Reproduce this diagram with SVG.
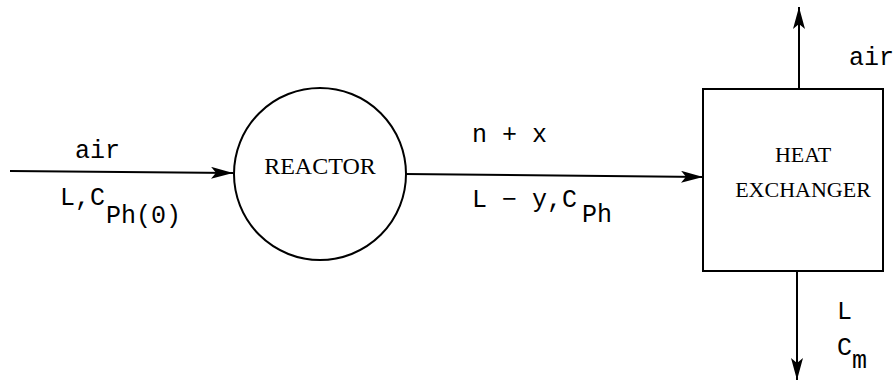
<svg xmlns="http://www.w3.org/2000/svg" width="895" height="388" viewBox="0 0 895 388">
<defs>
<marker id="ah" markerUnits="userSpaceOnUse" markerWidth="24" markerHeight="14" refX="22" refY="6" orient="auto">
<path d="M0,0 L22,6 L0,12 L5,6 z" fill="#000"/>
</marker>
</defs>
<style>
.ln{stroke:#000;stroke-width:2;fill:none}
.mono{font-family:"Liberation Mono","DejaVu Sans Mono",monospace;font-size:25px;fill:#000}
.ser{font-family:"Liberation Serif","DejaVu Serif",serif;fill:#000}
</style>
<rect width="895" height="388" fill="#fff"/>
<g id="connectors">
<line class="ln" x1="10" y1="171" x2="233" y2="173" marker-end="url(#ah)"/>
<line class="ln" x1="405" y1="174" x2="703" y2="177" marker-end="url(#ah)"/>
<line class="ln" x1="799" y1="89" x2="799" y2="7" marker-end="url(#ah)"/>
<line class="ln" x1="797" y1="271" x2="797" y2="380" marker-end="url(#ah)"/>
</g>
<g id="reactor">
<circle class="ln" cx="320" cy="174" r="86"/>
<text class="ser" x="320" y="174" font-size="24" text-anchor="middle">REACTOR</text>
</g>
<g id="heat-exchanger">
<rect class="ln" x="703" y="89" width="180" height="182"/>
<text class="ser" x="803" y="162" font-size="22" text-anchor="middle">HEAT</text>
<text class="ser" x="803" y="197" font-size="22" text-anchor="middle">EXCHANGER</text>
</g>
<g id="labels">
<text class="mono" x="75" y="158">air</text>
<text class="mono" x="60" y="205">L,C</text>
<text class="mono" x="106" y="223">Ph(0)</text>
<text class="mono" x="472" y="142">n + x</text>
<text class="mono" x="472" y="207">L − y,C</text>
<text class="mono" x="582" y="222">Ph</text>
<text class="mono" x="849" y="65">air</text>
<text class="mono" x="837" y="319">L</text>
<text class="mono" x="837" y="355">C</text>
<text class="mono" x="852" y="368">m</text>
</g>
</svg>
